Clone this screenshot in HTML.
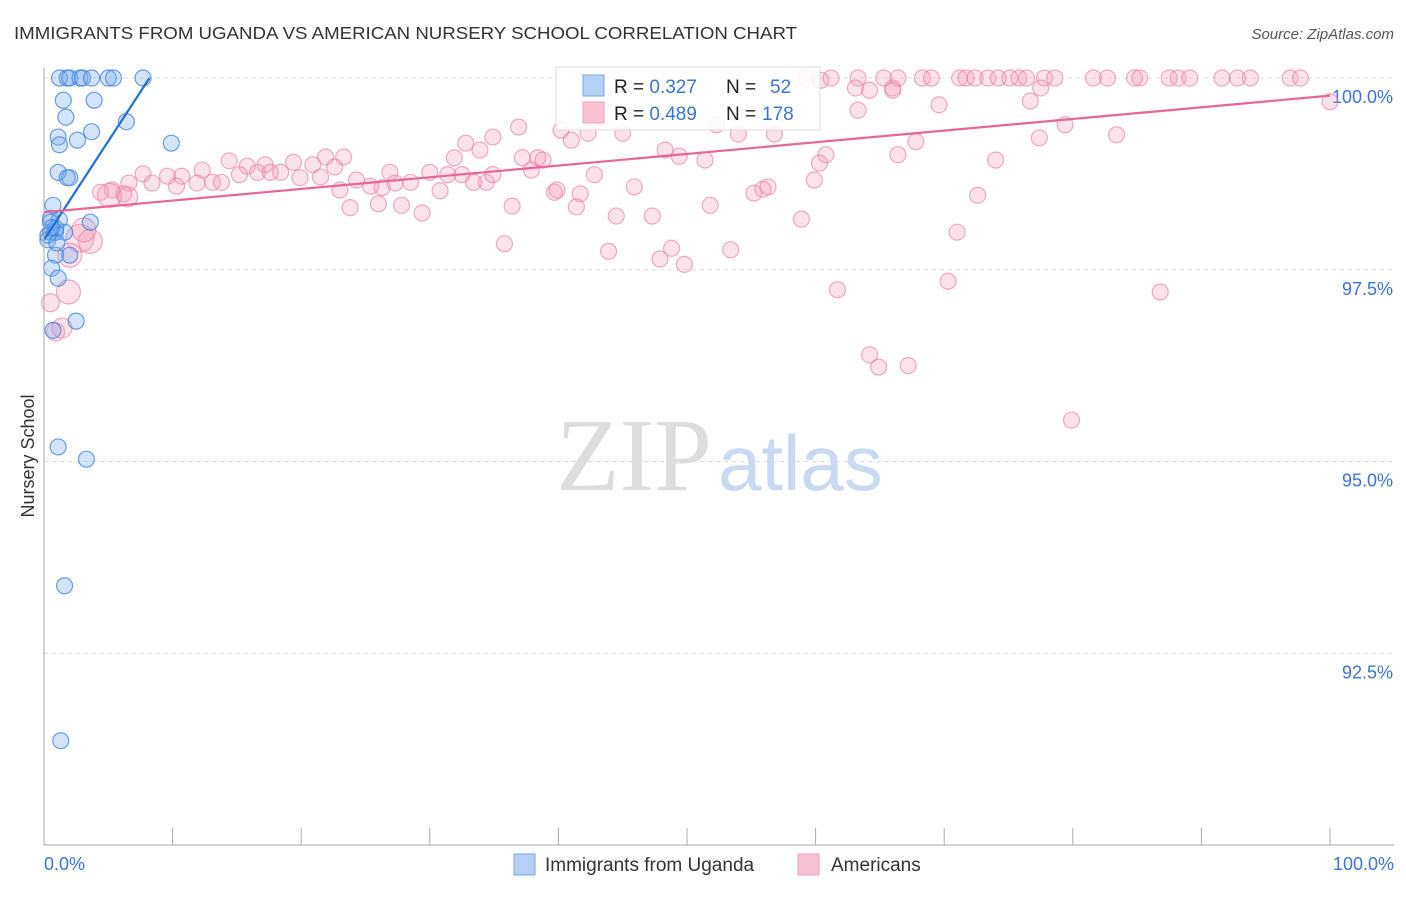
<!DOCTYPE html>
<html><head><meta charset="utf-8"><style>
body{margin:0;background:#fff;font-family:"Liberation Sans",sans-serif;}
</style></head><body>
<svg id="c" width="1406" height="892" style="font-family:'Liberation Sans',sans-serif">
<text x="14" y="39" font-size="17.5" fill="#333" textLength="783" lengthAdjust="spacingAndGlyphs">IMMIGRANTS FROM UGANDA VS AMERICAN NURSERY SCHOOL CORRELATION CHART</text>
<text x="1394" y="39" font-size="15" fill="#555" text-anchor="end" font-style="italic">Source: ZipAtlas.com</text>
<text x="712" y="490" font-size="104" fill="#ddd" text-anchor="end" style="font-family:'Liberation Serif',serif">ZIP</text>
<text x="718" y="490" font-size="78" fill="#c9daf0">atlas</text>
<text transform="translate(34,456) rotate(-90)" font-size="18" fill="#333" text-anchor="middle">Nursery School</text>
<g id="grid"></g><g id="pinkG"></g><g id="blueG"></g><g id="lines"></g>
<line x1="44" y1="68" x2="44" y2="845" stroke="#aaa"/>
<line x1="44" y1="845" x2="1394" y2="845" stroke="#aaa"/>
<g id="ticks"></g>
<text x="44" y="870" font-size="18" fill="#3a74d4">0.0%</text>
<text x="1394" y="870" font-size="18" fill="#3a74d4" text-anchor="end">100.0%</text>
<g>
<rect x="556" y="67" width="264" height="63" fill="#fff" fill-opacity="0.85" stroke="#ddd"/>
<rect x="583" y="75" width="21" height="21" fill="#b5d0f5" stroke="#7aa8e6"/>
<rect x="583" y="102" width="21" height="21" fill="#f9c3d3" stroke="#eda0b8"/>
<text x="614" y="93" font-size="19" fill="#222">R = <tspan fill="#3a74d4">0.327</tspan><tspan x="726">N =</tspan><tspan x="770" fill="#3a74d4">52</tspan></text>
<text x="614" y="120" font-size="19" fill="#222">R = <tspan fill="#3a74d4">0.489</tspan><tspan x="726">N =</tspan><tspan x="762" fill="#3a74d4">178</tspan></text>
</g>
<g>
<rect x="514" y="854" width="21" height="21" fill="#b5d0f5" stroke="#7aa8e6"/>
<text x="545" y="871" font-size="19" fill="#333">Immigrants from Uganda</text>
<rect x="798" y="854" width="21" height="21" fill="#f9c3d3" stroke="#eda0b8"/>
<text x="831" y="871" font-size="19" fill="#333">Americans</text>
</g>
</svg>
<script>
const yTicks=[100,97.5,95,92.5];
const yTickLabels=["100.0%","97.5%","95.0%","92.5%"];
const xTicks=[0,10,20,30,40,50,60,70,80,90,100];
const blueX=[1.2,1.8,2.0,2.8,3.0,3.7,5.0,5.4,7.7,1.5,3.9,1.7,6.4,1.1,2.6,3.7,1.2,9.9,1.1,1.8,2.0,0.7,0.5,1.2,3.6,0.5,0.9,1.6,0.3,2.0,0.9,0.6,1.1,2.5,0.7,1.1,3.3,1.6,1.3,0.5,0.9,0.3,0.6,1.0];
const blueY=[100,100,100,100,100,100,100,100,100,99.71,99.71,99.49,99.43,99.23,99.19,99.30,99.13,99.15,98.77,98.70,98.70,98.34,98.17,98.15,98.12,97.99,97.99,97.99,97.89,97.69,97.69,97.52,97.39,96.83,96.71,95.19,95.03,93.38,91.36,98.12,98.04,97.95,98.05,97.85];
const pinkX=[59.3,61.2,63.3,65.3,66.4,68.3,69.0,71.2,71.7,72.4,73.4,74.2,75.1,75.8,76.4,77.8,78.6,81.6,82.7,84.8,85.2,87.5,88.2,89.1,91.6,92.8,93.8,96.9,97.7,63.1,66.0,77.5,
100.0,69.6,76.7,63.3,64.2,66.0,60.4,40.2,36.9,34.9,32.8,33.9,41.0,42.3,45.0,52.3,54.0,56.8,83.4,79.4,48.3,49.4,51.4,66.4,67.8,77.4,60.8,60.3,74.0,37.2,38.4,38.8,31.9,23.3,21.9,20.9,19.4,17.2,14.4,15.8,12.3,10.7,9.6,7.7,6.6,5.3,4.4,6.2,8.4,10.3,11.9,13.1,13.8,15.2,16.6,17.6,18.4,19.9,21.5,22.6,24.3,23.0,25.4,26.3,27.3,28.5,26.9,30.0,30.8,31.4,32.5,33.4,34.4,34.9,37.9,39.7,39.9,41.7,42.8,45.9,55.2,55.9,56.3,59.9,51.8,44.5,47.3,41.4,36.4,29.4,27.8,26.0,23.8,58.9,72.6,71.0,43.9,35.8,48.8,47.9,49.8,53.4,70.3,61.7,86.8,64.2,64.9,67.2,79.9,
2.8,3.6,2.0,1.9,0.5,0.9,1.4,5.1,6.5,3.1];
const pinkY=[100,100,100,100,100,100,100,100,100,100,100,100,100,100,100,100,100,100,100,100,100,100,100,100,100,100,100,100,100,99.87,99.87,99.87,
99.69,99.65,99.70,99.58,99.84,99.84,99.97,99.32,99.36,99.23,99.15,99.06,99.19,99.28,99.28,99.39,99.27,99.27,99.26,99.39,99.06,98.98,98.93,99.00,99.17,99.22,99.00,98.89,98.93,98.96,98.96,98.93,98.96,98.97,98.97,98.87,98.90,98.87,98.92,98.85,98.80,98.72,98.72,98.75,98.63,98.54,98.51,98.49,98.63,98.59,98.63,98.64,98.64,98.74,98.77,98.77,98.77,98.70,98.71,98.84,98.67,98.54,98.59,98.57,98.63,98.64,98.77,98.77,98.53,98.74,98.74,98.64,98.64,98.74,98.80,98.51,98.54,98.49,98.74,98.58,98.50,98.55,98.58,98.67,98.34,98.20,98.20,98.32,98.33,98.24,98.34,98.36,98.31,98.16,98.47,97.99,97.74,97.84,97.78,97.64,97.57,97.76,97.35,97.24,97.21,96.39,96.23,96.25,95.54,
97.91,97.87,97.69,97.21,97.07,96.69,96.74,98.47,98.45,98.02];
const pinkBig=[14,12,12,12,9,9,10,12,10,12];
const blueFit=[[0,97.89],[8.2,100]];
const pinkFit=[[0,98.25],[100,99.77]];
const NS="http://www.w3.org/2000/svg";
const sx=v=>44+v*12.86;
const sy=v=>78+(100-v)*76.7;
function mk(tag,attrs,parent){const e=document.createElementNS(NS,tag);for(const k in attrs)e.setAttribute(k,attrs[k]);parent.appendChild(e);return e;}
const grid=document.getElementById('grid');
yTicks.forEach((t,i)=>{
  const l=mk('line',{x1:44,x2:1394,y1:sy(t),y2:sy(t),stroke:'#ddd','stroke-dasharray':'4,4'},grid);
  
  
  const tx=mk('text',{x:1393,y:sy(t)+25,'font-size':18,fill:'#3a74d4','text-anchor':'end'},grid);
  tx.textContent=yTickLabels[i];
  
  
});
const ticks=document.getElementById('ticks');
xTicks.forEach(t=>{
  const l=mk('line',{x1:sx(t),x2:sx(t),y1:828,y2:845,stroke:'#aaa'},ticks);
  
  
});
const pg=document.getElementById('pinkG');
pinkX.forEach((x,i)=>{
  const big=i>=pinkX.length-pinkBig.length?pinkBig[i-(pinkX.length-pinkBig.length)]:8;
  const c=mk('circle',{cx:sx(x),cy:sy(pinkY[i]),r:big,fill:'rgba(245,150,180,0.28)',stroke:'rgba(232,120,160,0.6)','stroke-width':1.2},pg);
  
  
});
const bg=document.getElementById('blueG');
blueX.forEach((x,i)=>{
  const c=mk('circle',{cx:sx(x),cy:sy(blueY[i]),r:8,fill:'rgba(110,165,235,0.3)',stroke:'rgba(60,130,220,0.75)','stroke-width':1.2},bg);
  
  
});
const lg=document.getElementById('lines');
const bl=mk('line',{x1:sx(blueFit[0][0]),y1:sy(blueFit[0][1]),x2:sx(blueFit[1][0]),y2:sy(blueFit[1][1]),stroke:'#1f6fd6','stroke-width':2.2},lg);


const pl=mk('line',{x1:sx(pinkFit[0][0]),y1:sy(pinkFit[0][1]),x2:sx(pinkFit[1][0]),y2:sy(pinkFit[1][1]),stroke:'#e8649a','stroke-width':2.2},lg);


</script>
</body></html>
